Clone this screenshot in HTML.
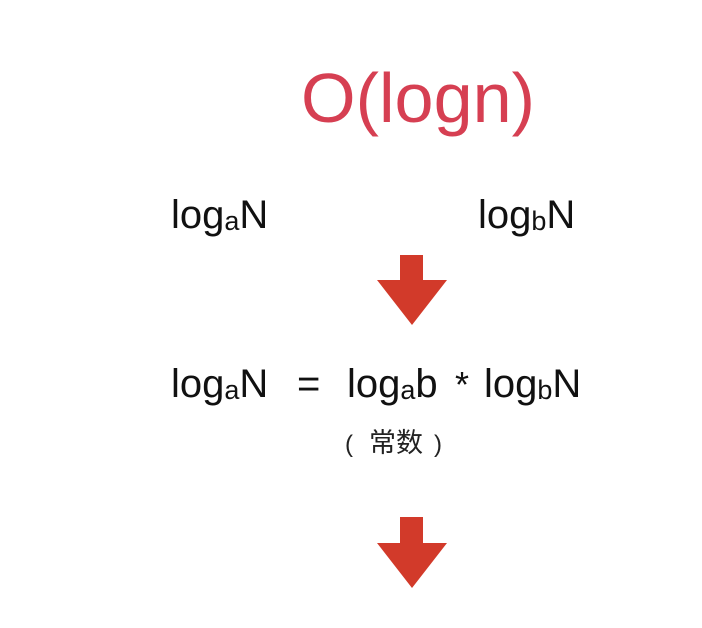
<!DOCTYPE html>
<html><head><meta charset="utf-8"><style>
html,body{margin:0;padding:0;background:#fff;}
svg{display:block;}
text{font-family:"Liberation Sans","Noto Sans CJK SC",sans-serif;}
</style></head><body>
<svg width="702" height="628" viewBox="0 0 702 628" xmlns="http://www.w3.org/2000/svg">
<rect width="702" height="628" fill="#fff"/>
<text x="301" y="122" font-size="70" fill="#d63f52" textLength="234" lengthAdjust="spacingAndGlyphs">O(logn)</text>
<text x="171" y="228" font-size="40" fill="#111">log<tspan font-size="27" dy="2">a</tspan><tspan dy="-2">N</tspan></text>
<text x="478" y="228" font-size="40" fill="#111">log<tspan font-size="27" dy="2">b</tspan><tspan dy="-2">N</tspan></text>
<polygon points="400,255 423,255 423,280 447,280 412,325 377,280 400,280" fill="#d23a2a"/>
<text x="171" y="397" font-size="40" fill="#111">log<tspan font-size="27" dy="2">a</tspan><tspan dy="-2">N</tspan></text>
<text x="297" y="397" font-size="40" fill="#111">=</text>
<text x="347" y="397" font-size="40" fill="#111">log<tspan font-size="27" dy="2">a</tspan><tspan dy="-2">b</tspan></text>
<text x="455" y="397" font-size="36" fill="#111">*</text>
<text x="484" y="397" font-size="40" fill="#111">log<tspan font-size="27" dy="2">b</tspan><tspan dy="-2">N</tspan></text>
<text x="345" y="452" font-size="24" fill="#222">(</text>
<text x="369" y="452" font-size="27" fill="#222">常数</text>
<text x="434" y="452" font-size="24" fill="#222">)</text>
<polygon points="400,517 423,517 423,543 447,543 412,588 377,543 400,543" fill="#d23a2a"/>
</svg>
</body></html>
